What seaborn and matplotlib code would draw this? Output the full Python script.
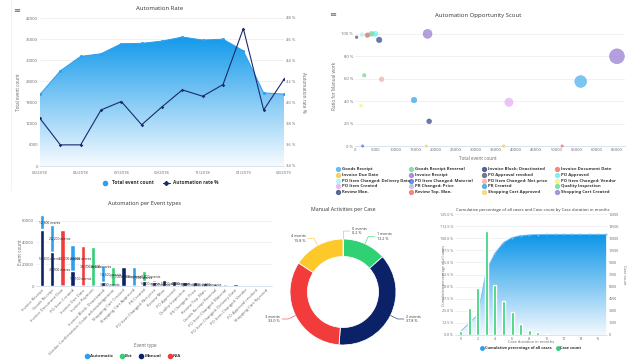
import numpy as np
import pandas as pd
import matplotlib
matplotlib.use("Agg")
import matplotlib.pyplot as plt
from matplotlib.patches import Polygon
from matplotlib.lines import Line2D
from matplotlib.colors import LinearSegmentedColormap
import seaborn as sns

# ---- data: Automation Rate ----
months = ["03/2018", "04/2018", "05/2018", "06/2018", "07/2018", "08/2018", "09/2018",
          "10/2018", "11/2018", "12/2018", "01/2019", "02/2019", "03/2019"]
total_events = [20300, 27000, 31100, 31850, 34700, 34800, 35450, 36600, 35750, 36000, 32700, 20750, 20400]
automation_rate = [38.5, 36.0, 36.0, 39.3, 40.1, 37.9, 39.6, 41.2, 40.6, 41.7, 47.0, 39.3, 42.2]

# ---- data: Automation Opportunity Scout ----
scout_events = ["Goods Receipt", "Goods Receipt Reversal", "Invoice Block: Deactivated", "Invoice Document Date",
                "Invoice Due Date", "Invoice Receipt", "PO Approval revoked", "PO Approved",
                "PO Item Changed: Delivery Date", "PO Item Changed: Material", "PO Item Changed: Net price", "PO Item Changed: Vendor",
                "PO Item Created", "PR Changed: Price", "PR Created", "Quality Inspection",
                "Review Man.", "Review Top. Man.", "Shopping Cart Approved", "Shopping Cart Created"]
scout_count = [56000, 2300, 18400, 51400, 36900, 65000, 400, 5000, 1700, 1900, 6600, 1500,
               38200, 3300, 14650, 4100, 6000, 3000, 17700, 18000]
scout_ratio = [57.5, 63, 22, 0, 0, 80, 97, 100, 99.4, 0, 59.5, 36, 39, 99, 41, 100, 94.6, 98.8, 0, 100]
scout_colors = ["#4fb2f0", "#74d99a", "#3c4c8c", "#f27474", "#f9c84f", "#9a80d4", "#60606e", "#66f2f2",
                "#aef3f3", "#5877f0", "#f7b0a8", "#faf27e", "#e8b0f5", "#b6c2d8", "#3aa6ee", "#74d99a",
                "#3c4c8c", "#f27474", "#fbd46a", "#9a80d4"]

# ---- data: Automation per Event types ----
bar_cats = ["Invoice Receipt", "Goods Receipt", "Invoice Document Date", "PO Item Created", "Invoice Due Date",
            "Invoice Payment", "Invoice Block: Deactivated", "Vendor Confirmation: Order acknowledgement",
            "Shopping Cart Created", "Shopping Cart Approved", "PR Created", "PO Item Changed: Net price",
            "Review Man.", "PO Approved", "Quality Inspection", "PR Changed: Price", "Review Top. Man.",
            "Goods Receipt Reversal", "PO Item Changed: Material", "PO Item Changed: Delivery Date",
            "PO Item Changed: Vendor", "PO Approval revoked", "Shopping Cart Rejected"]
automatic = [12800, 24200, 0, 23500, 0, 0, 14600, 0, 0, 17100, 0, 2100, 0, 0, 0, 0, 0, 600, 1800, 0, 1200, 0, 0]
bot = [900, 0, 0, 0, 0, 36100, 0, 17700, 0, 0, 8800, 0, 0, 0, 0, 0, 0, 0, 0, 0, 0, 0, 0]
manual = [51400, 31500, 0, 14100, 0, 0, 3400, 0, 17700, 0, 5000, 3700, 5200, 4600, 4000, 3400, 2800,
          1500, 0, 1500, 0, 900, 400]
not_avail = [0, 0, 51000, 0, 36700, 0, 0, 0, 0, 0, 0, 0, 0, 0, 0, 0, 0, 0, 0, 0, 0, 0, 0]

# ---- data: Manual Activities per Case ----
donut_labels = ["0 events", "1 events", "2 events", "3 events", "4 events"]
donut_share = [0.2, 13.2, 37.8, 33.0, 15.8]

# ---- data: case duration ----
duration_months = list(range(18))
case_count = [540, 3380, 5850, 12900, 6260, 4240, 2880, 1320, 660, 330, 165, 40, 15, 0, 0, 0, 0, 0]
cumulative_pct = [3.8, 12.4, 21.0, 67.0, 84.5, 95.5, 100.6, 102.7, 103.4, 103.7, 104.0, 104.0,
                  104.0, 104.0, 104.0, 104.0, 104.0, 104.0]

W, H = 640, 360
BLUE = "#2b9ff2"
NAVY = "#0c2268"
GREEN = "#30d075"
RED = "#f23c3c"
YELLOW = "#fcc82a"
GRID = "#e6e6e6"
TXT = "#333333"
TICK = "#666666"

sns.set_theme(style="white")
plt.rcParams["font.family"] = ["Open Sans", "DejaVu Sans"]


def box(l, t, r, b):
    return [l / W, 1 - b / H, (r - l) / W, (b - t) / H]


def tidy(ax, size=3):
    for s in ["top", "right", "left"]:
        ax.spines[s].set_visible(False)
    ax.spines["bottom"].set_color("#ccd6eb")
    ax.spines["bottom"].set_linewidth(0.5)
    ax.tick_params(axis="both", labelsize=size, colors=TICK, length=0, pad=1.5)
    ax.grid(axis="y", color=GRID, linewidth=0.4)
    ax.grid(axis="x", visible=False)
    ax.set_xlabel("")
    ax.set_ylabel("")


def gradient_area(ax, x, y, top, c_top, c_bottom):
    x = np.asarray(x, float)
    y = np.asarray(y, float)
    verts = np.vstack([[x[0], 0], np.column_stack([x, y]), [x[-1], 0]])
    poly = Polygon(verts, closed=True, facecolor="none", edgecolor="none")
    ax.add_patch(poly)
    cmap = LinearSegmentedColormap.from_list("g", [c_bottom, c_top])
    grad = np.linspace(0, 1, 256).reshape(-1, 1)
    im = ax.imshow(grad, extent=[x[0], x[-1], 0, top], origin="lower", aspect="auto", cmap=cmap, zorder=1)
    im.set_clip_path(poly)


def text(x, y, s, **kw):
    kw.setdefault("color", TXT)
    kw.setdefault("ha", "center")
    kw.setdefault("va", "center")
    fig.text(x / W, 1 - y / H, s, **kw)


fig = plt.figure(figsize=(6.4, 3.6), dpi=100)

# hamburger icons and panel border
text(17, 11, "\u2261", fontsize=6, color="#666666")
text(333, 16, "\u2261", fontsize=6, color="#666666")
fig.add_artist(Line2D([10.5 / W, 10.5 / W], [1, 1 - 190 / H], color="#eeeeee", lw=0.5, transform=fig.transFigure))

# ================= Automation Rate =================
ax1 = fig.add_axes(box(40, 18, 284, 166))
xi = np.arange(len(months))
gradient_area(ax1, xi, total_events, 37000, "#1098ea", "#f6fbff")
sns.lineplot(x=xi, y=total_events, ax=ax1, color=BLUE, marker="o", markersize=2.2,
             markeredgewidth=0, linewidth=0.7, zorder=3)
ax1.set_xlim(0, 12)
ax1.set_ylim(0, 42000)
ax1.set_yticks(np.arange(0, 42001, 6000))
ax1.set_xticks(xi)
ax1.set_xticklabels([m if i % 2 == 0 else "" for i, m in enumerate(months)])
tidy(ax1)
ax1.tick_params(axis="x", length=2, color="#ccd6eb", width=0.4)

ax1b = ax1.twinx()
sns.lineplot(x=xi, y=automation_rate, ax=ax1b, color="#1b2a6e", marker="D", markersize=1.8,
             markeredgewidth=0, linewidth=0.8)
ax1b.set_ylim(34, 48)
ax1b.set_yticks(np.arange(34, 49, 2))
ax1b.set_yticklabels([f"{v} %" for v in range(34, 49, 2)])
tidy(ax1b)
ax1b.grid(False)
ax1b.spines["bottom"].set_visible(False)

text(160, 9, "Automation Rate", fontsize=4.3)
text(18, 92, "Total event count", fontsize=3.3, rotation=90, color=TICK)
text(304, 92, "Automation rate %", fontsize=3.3, rotation=270, color=TICK)
h1 = [Line2D([], [], marker="o", color=BLUE, ls="", ms=3),
      Line2D([], [], marker="D", color="#1b2a6e", lw=0.8, ms=2)]
fig.legend(h1, ["Total event count", "Automation rate %"], loc="center", bbox_to_anchor=(160 / W, 1 - 183 / H),
           ncol=2, frameon=False, prop={"size": 3.4, "weight": "bold"}, handlelength=1.4, columnspacing=2.0,
           labelcolor=TXT)

# ================= Automation Opportunity Scout =================
ax2 = fig.add_axes(box(355, 26, 625, 146))
scout = pd.DataFrame({"event": scout_events, "count": scout_count, "ratio": scout_ratio})
scout["manual"] = scout["count"] * scout["ratio"] / 100
palette = dict(zip(scout_events, scout_colors))
sns.scatterplot(data=scout, x="count", y="ratio", hue="event", palette=palette, size="manual",
                sizes=(3, 115), size_norm=(0, scout["manual"].max()), alpha=0.75, edgecolor="face",
                linewidth=0.4, legend=False, ax=ax2, clip_on=False, zorder=3)
ax2.set_xlim(0, 67000)
ax2.set_ylim(0, 107)
ax2.set_xticks(np.arange(0, 65001, 5000))
ax2.set_yticks(np.arange(0, 101, 20))
ax2.set_yticklabels([f"{v} %" for v in range(0, 101, 20)])
tidy(ax2)
text(478, 15, "Automation Opportunity Scout", fontsize=4.3)
text(478, 158, "Total event count", fontsize=3.3, color=TICK)
text(334, 86, "Ratio for Manual work", fontsize=3.3, rotation=90, color=TICK)
for i, name in enumerate(scout_events):
    r, c = divmod(i, 4)
    lx, ly = 338 + c * 73, 169 + r * 5.8
    fig.add_artist(Line2D([lx / W], [1 - ly / H], marker="o", ms=2.8, color=palette[name], alpha=0.8,
                          ls="", transform=fig.transFigure))
    text(lx + 4, ly, name, fontsize=3.1, ha="left", weight="bold")

# ================= Automation per Event types =================
ax3 = fig.add_axes(box(36, 213, 272, 286))
layers = [("Manual", manual, NAVY), ("Bot", bot, GREEN), ("Automatic", automatic, BLUE), ("N/A", not_avail, RED)]
cum = np.zeros(len(bar_cats))
stacks = []
for name, vals, col in layers:
    base = cum.copy()
    cum = cum + np.array(vals)
    stacks.append((base, np.array(vals), cum.copy(), col))
for base, vals, top, col in reversed(stacks):
    sns.barplot(x=bar_cats, y=top, order=bar_cats, color=col, width=0.42, saturation=1, ax=ax3, zorder=2)
for base, vals, top, col in stacks:
    for i, v in enumerate(vals):
        if v >= 2500:
            ax3.text(i - 0.3, base[i] + v / 2, f"{int(v):,} events", fontsize=2.4, color="#222222",
                     ha="left", va="center", zorder=4)
ax3.set_ylim(0, 67000)
ax3.set_xlim(-0.6, len(bar_cats) - 0.4)
ax3.set_yticks(np.arange(0, 60001, 20000))
tidy(ax3)
ax3.set_xticks(range(len(bar_cats)))
ax3.set_xticklabels(bar_cats, rotation=45, ha="right", rotation_mode="anchor", fontsize=3)
text(145, 204, "Automation per Event types", fontsize=4.1)
text(20, 252, "Event count", fontsize=3.3, rotation=90, color=TICK)
text(145, 346, "Event type", fontsize=3.3, color=TICK)
h3 = [Line2D([], [], marker="o", color=c, ls="", ms=3) for c in [BLUE, GREEN, NAVY, RED]]
fig.legend(h3, ["Automatic", "Bot", "Manual", "N/A"], loc="center", bbox_to_anchor=(133 / W, 1 - 356 / H),
           ncol=4, frameon=False, prop={"size": 3.2, "weight": "bold"}, handlelength=0.8, handletextpad=0.3,
           columnspacing=1.6, labelcolor=TXT)

# ================= Manual Activities per Case =================
ax4 = fig.add_axes(box(273, 222, 413, 362))
donut_colors = ["#7cc7f2", GREEN, NAVY, RED, YELLOW]
wedges, _ = ax4.pie(donut_share, colors=donut_colors, startangle=90, counterclock=False, radius=1,
                    wedgeprops=dict(width=0.33, edgecolor="white", linewidth=0.6))
for w, lab, v, col in zip(wedges, donut_labels, donut_share, donut_colors):
    ang = np.deg2rad((w.theta1 + w.theta2) / 2)
    cx, cy = np.cos(ang), np.sin(ang)
    side = 1 if cx >= 0 else -1
    ex, ey = 1.15 * cx, 1.15 * cy
    ax4.plot([cx, ex, ex + side * 0.12], [cy, ey, ey], color=col, lw=0.4)
    ax4.text(ex + side * 0.16, ey, f"{lab}\n{v} %", fontsize=2.7, color=TXT, va="center",
             ha="left" if side > 0 else "right", linespacing=1.1)
ax4.set_xlim(-70 / 53, 70 / 53)
ax4.set_ylim(-70 / 53, 70 / 53)
ax4.axis("off")
text(343, 210, "Manual Activities per Case", fontsize=3.8)

# ================= Cumulative / Case count =================
ax5 = fig.add_axes(box(455, 214, 607, 335))
gradient_area(ax5, duration_months, cumulative_pct, 105, "#0a94e8", "#f2f9fe")
sns.lineplot(x=duration_months, y=cumulative_pct, ax=ax5, color="#6fbdf3", marker="o", markersize=1.4,
             markeredgewidth=0, linewidth=0.6, zorder=3)
ax5.set_xlim(-0.67, 17.1)
ax5.set_ylim(0, 125)
ax5.set_yticks(np.arange(0, 125.1, 12.5))
ax5.set_yticklabels([f"{v:.1f} %" for v in np.arange(0, 125.1, 12.5)])
ax5.set_xticks(range(0, 17, 2))
tidy(ax5, size=2.6)

ax5b = ax5.twinx()
sns.barplot(x=duration_months, y=case_count, native_scale=True, color=GREEN, width=0.34, saturation=1,
            ax=ax5b, zorder=3)
ax5b.set_xlim(-0.67, 17.1)
ax5b.set_ylim(0, 15000)
ax5b.set_yticks(np.arange(0, 15001, 1500))
tidy(ax5b, size=2.6)
ax5b.grid(False)
ax5b.spines["bottom"].set_visible(False)
ax5b.set_xticks(range(0, 17, 2))

text(533, 210, "Cumulative percentage of all cases and Case count by Case duration in months", fontsize=3.0)
text(444, 275, "Cumulative percentage of all cases", fontsize=2.7, rotation=90, color=TICK)
text(624, 275, "Case count", fontsize=2.7, rotation=270, color=TICK)
text(531, 342, "Case duration in months", fontsize=2.9, color=TICK)
h5 = [Line2D([], [], marker="o", color=BLUE, ls="", ms=2.5), Line2D([], [], marker="o", color=GREEN, ls="", ms=2.5)]
fig.legend(h5, ["Cumulative percentage of all cases", "Case count"], loc="center",
           bbox_to_anchor=(531 / W, 1 - 348 / H), ncol=2, frameon=False, prop={"size": 2.8, "weight": "bold"},
           handlelength=0.8, handletextpad=0.3, columnspacing=1.2, labelcolor=TXT)

fig.savefig("out.png", dpi=100)
